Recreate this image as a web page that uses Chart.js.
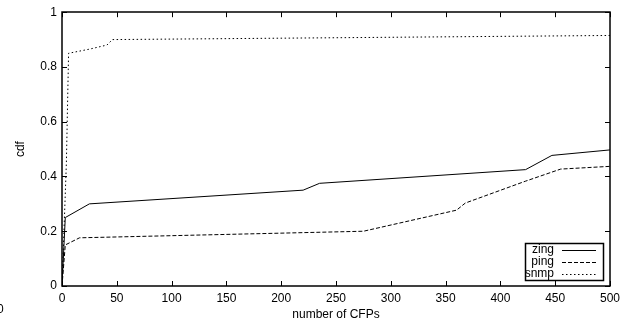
<!DOCTYPE html>
<html>
<head>
<meta charset="utf-8">
<script src="https://cdn.jsdelivr.net/npm/chart.js@4"></script>
<style>
  html, body { margin: 0; padding: 0; background: #fff; }
  #wrap { width: 623px; height: 322px; }
</style>
</head>
<body>
<div id="wrap"><canvas id="c" width="623" height="322"></canvas></div>
<script>
// values (x = number of CFPs, y = cdf)
const seriesNames = ['zing', 'ping', 'snmp'];
const zingPts = [[0, 0], [3, 0.25], [25, 0.30], [220, 0.35], [235, 0.375], [423, 0.425], [447, 0.477], [500, 0.497]];
const pingPts = [[0, 0], [3, 0.15], [16, 0.176], [275, 0.20], [360, 0.277], [368, 0.303], [423, 0.383], [455, 0.427], [500, 0.437]];
const snmpPts = [[0, 0], [4, 0.45], [6, 0.85], [25, 0.865], [41, 0.88], [46, 0.90], [500, 0.915]];
const xTicks = [0, 50, 100, 150, 200, 250, 300, 350, 400, 450, 500];
const yTicks = [0, 0.2, 0.4, 0.6, 0.8, 1];
const dashes = [[], [4, 2], [1.5, 2.5]];

const FONT = 'Liberation Sans, Arial, Helvetica, sans-serif';

function toXY(pts) {
    return pts.map(p => ({ x: p[0], y: p[1] }));
}

const frameAndLegend = {
    id: 'frameAndLegend',
    afterDraw(chart) {
        const ctx = chart.ctx;
        const a = chart.chartArea;
        const xs = chart.scales.x, ys = chart.scales.y;
        ctx.save();
        ctx.strokeStyle = '#000';
        ctx.setLineDash([]);
        // frame
        ctx.lineWidth = 1.5;
        ctx.strokeRect(Math.round(a.left), Math.round(a.top),
            Math.round(a.right - a.left), Math.round(a.bottom - a.top));
        // inward tick marks on all four sides
        ctx.lineWidth = 1;
        ctx.beginPath();
        xTicks.forEach(v => {
            const px = Math.round(xs.getPixelForValue(v)) + 0.5;
            ctx.moveTo(px, a.bottom); ctx.lineTo(px, a.bottom - 5);
            ctx.moveTo(px, a.top); ctx.lineTo(px, a.top + 5);
        });
        yTicks.forEach(v => {
            const py = Math.round(ys.getPixelForValue(v)) + 0.5;
            ctx.moveTo(a.left, py); ctx.lineTo(a.left + 5, py);
            ctx.moveTo(a.right, py); ctx.lineTo(a.right - 5, py);
        });
        ctx.stroke();

        // legend box, bottom right, gnuplot style
        const bx = 525.5, by = 243.5, bw = 78, bh = 37;
        ctx.fillStyle = '#fff';
        ctx.fillRect(bx, by, bw, bh);
        ctx.lineWidth = 1.5;
        ctx.strokeRect(bx, by, bw, bh);
        ctx.lineWidth = 1;
        ctx.font = '12px ' + FONT;
        ctx.fillStyle = '#000';
        ctx.textAlign = 'right';
        ctx.textBaseline = 'middle';
        chart.data.datasets.forEach((ds, i) => {
            const ly = 250 + i * 12;
            ctx.fillText(ds.label, 554, ly);
            ctx.setLineDash(dashes[i]);
            ctx.beginPath();
            ctx.moveTo(562, ly + 0.5);
            ctx.lineTo(596, ly + 0.5);
            ctx.stroke();
        });
        ctx.setLineDash([]);

        // stray label at the far left edge
        ctx.textAlign = 'left';
        ctx.fillText('0', -3, 310);
        ctx.restore();
    }
};

new Chart(document.getElementById('c'), {
    type: 'line',
    data: {
        datasets: [zingPts, pingPts, snmpPts].map((pts, i) => ({
            label: seriesNames[i],
            data: toXY(pts),
            borderColor: '#000',
            borderWidth: 1,
            borderDash: dashes[i],
            pointRadius: 0,
            tension: 0,
            fill: false
        }))
    },
    options: {
        responsive: false,
        animation: false,
        layout: { padding: { top: 12, right: 13, left: 0, bottom: 0 } },
        scales: {
            x: {
                type: 'linear',
                min: 0,
                max: 500,
                afterFit: s => { s.height = 36; s.paddingRight = 0; s.paddingLeft = 0; },
                afterBuildTicks: s => { s.ticks = xTicks.map(v => ({ value: v })); },
                grid: { display: false, drawTicks: false },
                border: { display: false },
                ticks: { color: '#000', padding: 5, maxRotation: 0, font: { family: FONT, size: 12 } },
                title: { display: true, text: 'number of CFPs', color: '#000', padding: { top: 4, bottom: 0 }, font: { family: FONT, size: 12 } }
            },
            y: {
                type: 'linear',
                min: 0,
                max: 1,
                afterFit: s => { s.width = 62; },
                afterBuildTicks: s => { s.ticks = yTicks.map(v => ({ value: v })); },
                grid: { display: false, drawTicks: false },
                border: { display: false },
                ticks: { color: '#000', padding: 5, font: { family: FONT, size: 12 }, callback: v => String(Math.round(v * 10) / 10) },
                title: { display: true, text: 'cdf', color: '#000', padding: { top: 13, bottom: 0 }, font: { family: FONT, size: 12 } }
            }
        },
        plugins: {
            legend: { display: false },
            tooltip: { enabled: false }
        }
    },
    plugins: [frameAndLegend]
});
</script>
</body>
</html>
